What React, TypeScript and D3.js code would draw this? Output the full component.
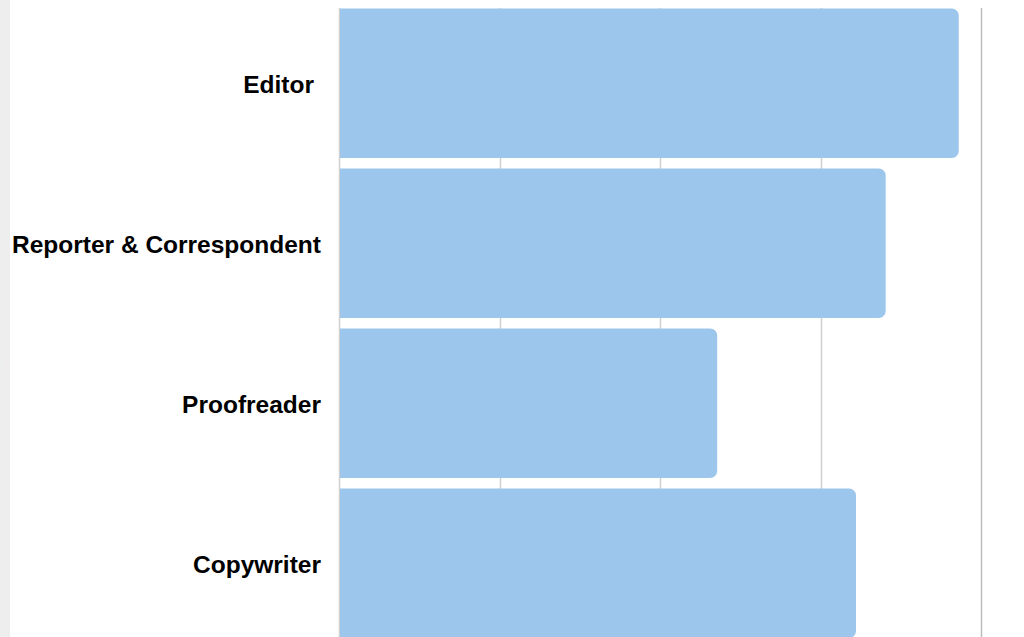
import React from "react";
import * as d3 from "d3";

const categories = ["Editor", "Reporter & Correspondent", "Proofreader", "Copywriter"];
const values = [77.1, 68.0, 47.0, 64.3];
const tickValues = [0, 20, 40, 60, 80];

const W = 1024;
const H = 637;

function barPath(x0: number, y0: number, x1: number, y1: number, r: number) {
  const w = x1 - x0;
  const rr = Math.min(r, w / 2, (y1 - y0) / 2);
  return `M${x0},${y0}H${x1 - rr}A${rr},${rr} 0 0 1 ${x1},${y0 + rr}V${y1 - rr}A${rr},${rr} 0 0 1 ${x1 - rr},${y1}H${x0}Z`;
}

export default function App() {
  const x = d3.scaleLinear().domain([0, 80]).range([340, 982]);
  const p = 0.066;
  const y = d3
    .scaleBand<string>()
    .domain(categories)
    .range([8.5, 8.5 + 160 * (4 - p)])
    .paddingInner(p)
    .paddingOuter(0);

  return (
    <div style={{ position: "fixed", left: 0, top: 0, width: W, height: H, overflow: "hidden", background: "#fff" }}>
      <svg width={W} height={H} style={{ display: "block" }}>
        <rect x={0} y={0} width={W} height={H} fill="#ffffff" />
        <rect x={0} y={0} width={10} height={H} fill="#eeeeee" />
        <text
          x={-3}
          y={368}
          fontFamily="Liberation Sans, Arial, sans-serif"
          fontSize={16}
          fill="#555"
        >
          i
        </text>
        {tickValues.map((t, i) => (
          <line
            key={t}
            x1={Math.round(x(t)) - 0.5}
            x2={Math.round(x(t)) - 0.5}
            y1={8}
            y2={H}
            stroke={i === tickValues.length - 1 ? "#bdbdbd" : "#d0d0d0"}
            strokeWidth={1.5}
          />
        ))}
        {categories.map((c, i) => {
          const y0 = y(c)!;
          const y1 = y0 + y.bandwidth();
          return (
            <path key={c} d={barPath(x(0), y0, x(values[i]), y1, 7)} fill="#9dc6ec" />
          );
        })}
        {categories.map((c) => (
          <text
            key={c}
            x={c === "Editor" ? 314 : 321}
            y={y(c)! + y.bandwidth() / 2 + 1}
            dy="0.35em"
            textAnchor="end"
            fontFamily="Liberation Sans, Arial, sans-serif"
            fontWeight="bold"
            fontSize={24.5}
            fill="#000"
          >
            {c}
          </text>
        ))}
      </svg>
    </div>
  );
}
